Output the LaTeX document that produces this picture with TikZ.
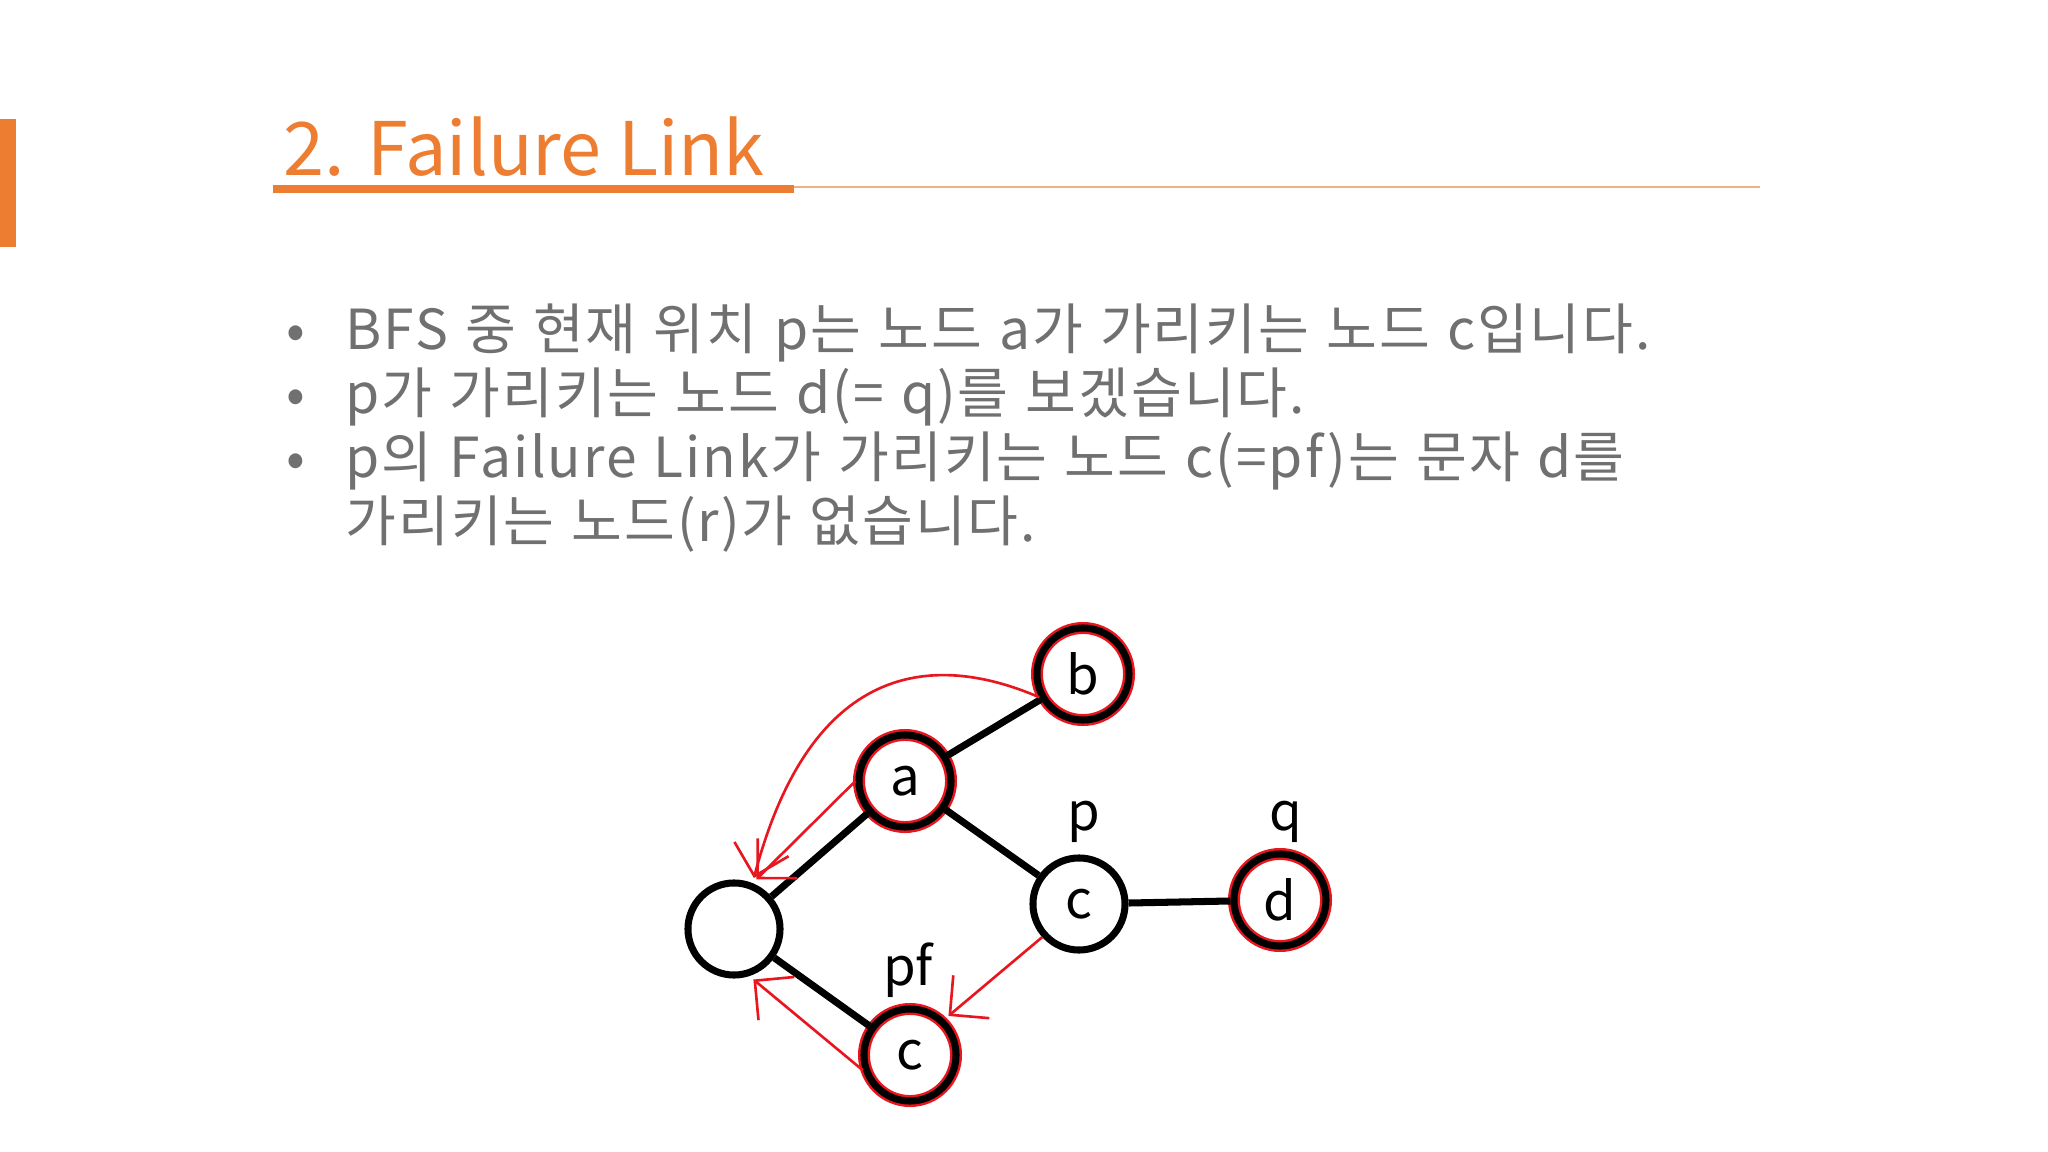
\documentclass[tikz,border=0pt]{standalone}
\usepackage{fontspec}
\usetikzlibrary{arrows.meta}
\newfontfamily\kr{Noto Sans CJK KR}
\newfontfamily\krtext[LetterSpace=3.5,WordSpace=1.2]{Noto Sans CJK KR}
\definecolor{ppor}{RGB}{237,125,49}
\definecolor{lightor}{RGB}{238,178,130}
\definecolor{ppgray}{RGB}{112,112,112}
\definecolor{pred}{RGB}{232,22,30}
\tikzset{
  vtx/.style={circle,draw,line width=2pt,minimum size=0.92cm,inner sep=0pt,font=\kr\fontsize{15}{15}\selectfont},
  vtxr/.style={vtx,preaction={draw=pred,line width=3.4pt}},
  lbl/.style={anchor=base,inner sep=0pt,font=\kr\fontsize{15}{15}\selectfont},
  edge/.style={line width=2pt},
  flink/.style={draw=pred,line width=0.75pt,shorten >=1.5pt,-{Straight Barb[length=2.8mm,width=5.6mm]}},
  bul/.style={anchor=base west,inner sep=0pt,text=ppgray,font=\krtext\fontsize{15.7}{15.7}\selectfont}
}
\begin{document}
\begin{tikzpicture}[x=0.01cm,y=-0.01cm]
\useasboundingbox (0,0) rectangle (2048,1152);
\fill[ppor] (0,119) rectangle (16,247);
\node[anchor=base west,inner sep=0pt,text=ppor,font=\kr\fontsize{21}{21}\selectfont] (title) at (283,176) {2. Failure Link};
\fill[ppor] (273,185) rectangle (794,193);
\draw[lightor,line width=0.6pt] (794,187) -- (1760,187);

\foreach \y in {350,414,478}
    \node[bul,anchor=base] at (296,\y) {•};
\node[bul] (l1) at (345,350) {BFS 중 현재 위치 p는 노드 a가 가리키는 노드 c입니다.};
\node[bul] (l2) at (345,414) {p가 가리키는 노드 d(= q)를 보겠습니다.};
\node[bul] (l3) at (345,478) {p의 Failure Link가 가리키는 노드 c(=pf)는 문자 d를};
\node[bul] (l4) at (345,542) {가리키는 노드(r)가 없습니다.};

\node[vtx] (root) at (734,929) {};
\node[vtxr] (a) at (905,781) {a};
\node[vtxr] (b) at (1083,674) {b};
\node[vtx] (c) at (1079,904) {c};
\node[vtxr] (d) at (1280,900) {d};
\node[vtxr] (f) at (910,1055) {c};
\node[lbl] (p) at (1084,830) {p};
\node[lbl] (q) at (1286,830) {q};
\node[lbl] (pf) at (908,985) {pf};

\draw[edge] (root)--(a) (a)--(b) (a)--(c) (c)--(d) (root)--(f);

\draw[flink] (b.208) .. controls (930,650) and (810,665) .. (root.68);
\draw[flink] (a.west) -- (root.68);
\draw[flink] (c.222) -- (f.46);
\draw[flink] (f.198) -- (root.288);
\end{tikzpicture}
\end{document}
